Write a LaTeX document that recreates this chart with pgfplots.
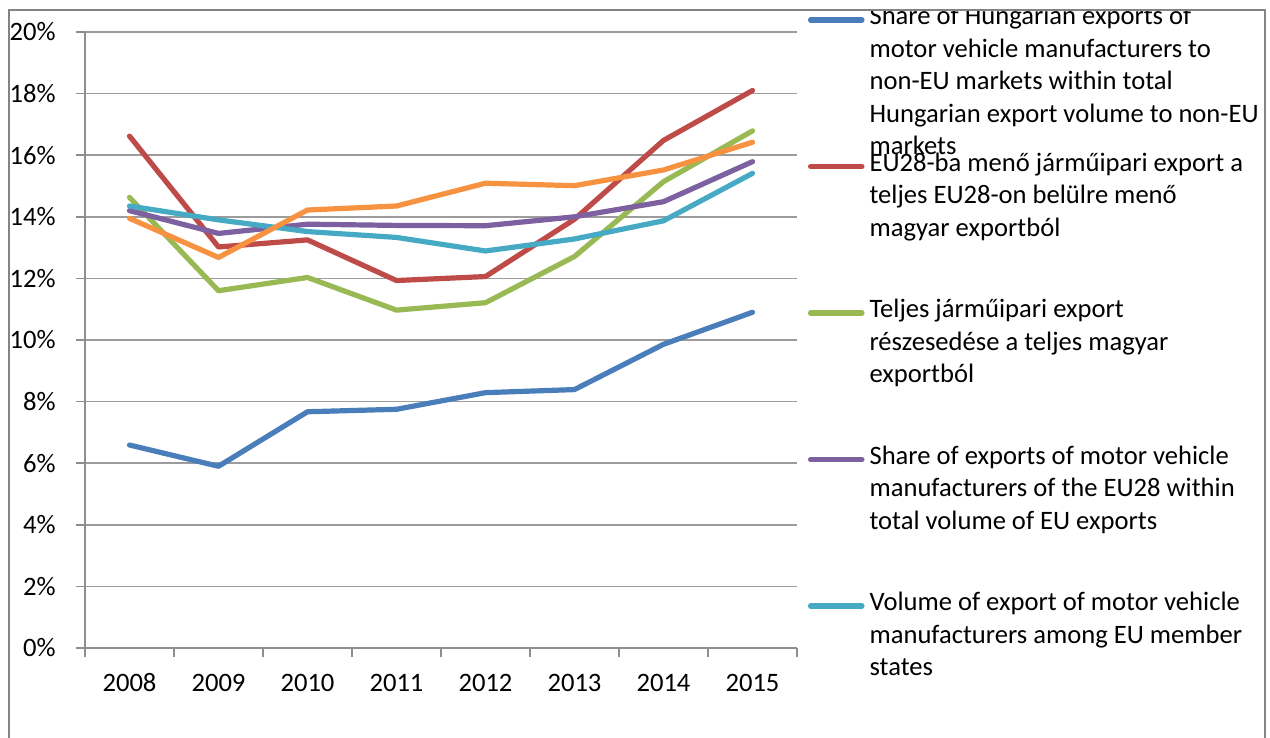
\documentclass[border=0pt]{standalone}
\usepackage{pgfplots}
\pgfplotsset{compat=1.18}
\usepackage{fontspec}
\setmainfont{Carlito}
\definecolor{sBlue}{HTML}{4A7EBB}
\definecolor{sRed}{HTML}{BE4B48}
\definecolor{sGreen}{HTML}{98B954}
\definecolor{sPurple}{HTML}{7D60A0}
\definecolor{sTeal}{HTML}{46AAC5}
\definecolor{sOrange}{HTML}{F69240}
\definecolor{axisgray}{HTML}{8E8E8E}
\definecolor{gridgray}{HTML}{9C9C9C}
\definecolor{framegray}{HTML}{848484}
\newcommand\lfont{\fontsize{13.3}{16.25}\selectfont}
\newcommand\lgd[1]{\smash{\raisebox{-3.1pt}{\begin{tabular}[t]{@{}l@{}}#1\end{tabular}}}}

\pgfplotstableread{
x blue red green purple teal orange
0 6.59 16.62 14.63 14.20 14.35 13.95
1 5.90 13.02 11.60 13.46 13.90 12.68
2 7.67 13.25 12.03 13.76 13.52 14.22
3 7.75 11.93 10.97 13.72 13.33 14.35
4 8.29 12.06 11.21 13.71 12.89 15.09
5 8.39 13.92 12.71 14.00 13.28 15.01
6 9.86 16.48 15.14 14.49 13.87 15.52
7 10.90 18.10 16.79 15.79 15.41 16.42
}\datatable

\begin{document}
\begin{tikzpicture}
\useasboundingbox (0,0) rectangle (635pt,369pt);
\fill[white] (0,0) rectangle (635pt,369pt);
\begin{axis}[
  at={(42.5pt,45pt)}, anchor=south west,
  scale only axis, width=356pt, height=308pt,
  xmin=-0.5, xmax=7.5, ymin=0, ymax=20,
  axis x line*=bottom, axis y line*=left,
  axis line style={draw=axisgray, line width=0.75pt},
  tick align=outside,
  major tick length=4.5pt,
  tick style={draw=axisgray, line width=0.75pt},
  xtick={-0.5,0.5,...,7.5},
  xticklabels={2008,2009,2010,2011,2012,2013,2014,2015,{}},
  xticklabel style={anchor=base, inner sep=0pt, xshift=22.25pt, yshift=-17.5pt},
  ytick={0,2,...,20},
  yticklabels={0\%,2\%,4\%,6\%,8\%,10\%,12\%,14\%,16\%,18\%,20\%},
  yticklabel style={anchor=east, inner sep=0pt, xshift=-10pt},
  ymajorgrids,
  major grid style={draw=gridgray, line width=0.75pt},
  every tick label/.append style={font=\lfont},
  /pgf/number format/assume math mode=true,
  clip=false,
  legend cell align=left,
  legend style={at={(axis description cs:1.0154,1.0237)}, anchor=north west,
    draw=none, fill=none, inner sep=0pt, outer sep=0pt,
    row sep=70.65pt, column sep=2.5pt, font=\lfont,
    nodes={inner sep=0pt, outer sep=0pt}},
  legend image code/.code={\draw[#1, line width=2.6pt, line cap=round] (1.3pt,0pt) -- (27pt,0pt);},
  every axis plot/.append style={line width=2.6pt, line join=round, line cap=round},
]
\addplot[sBlue] table[x=x, y=blue] {\datatable};
\addlegendentry{\lgd{Share of Hungarian exports of\\motor vehicle manufacturers to\\non-EU markets within total\\Hungarian export volume to non-EU\\markets}}
\addplot[sRed] table[x=x, y=red] {\datatable};
\addlegendentry{\lgd{EU28-ba menő járműipari export a\\teljes EU28-on belülre menő\\magyar exportból}}
\addplot[sGreen] table[x=x, y=green] {\datatable};
\addlegendentry{\lgd{Teljes járműipari export\\részesedése a teljes magyar\\exportból}}
\addplot[sPurple] table[x=x, y=purple] {\datatable};
\addlegendentry{\lgd{Share of exports of motor vehicle\\manufacturers of the EU28 within\\total volume of EU exports}}
\addplot[sTeal] table[x=x, y=teal] {\datatable};
\addlegendentry{\lgd{Volume of export of motor vehicle\\manufacturers among EU member\\states}}
\addplot[sOrange, forget plot] table[x=x, y=orange] {\datatable};
\end{axis}
\fill[white] (0,364pt) rectangle (635pt,369pt);
\draw[framegray, line width=1.1pt] (4.5pt,-5pt) -- (4.5pt,364pt) -- (632.5pt,364pt) -- (632.5pt,-5pt);
\end{tikzpicture}
\end{document}
